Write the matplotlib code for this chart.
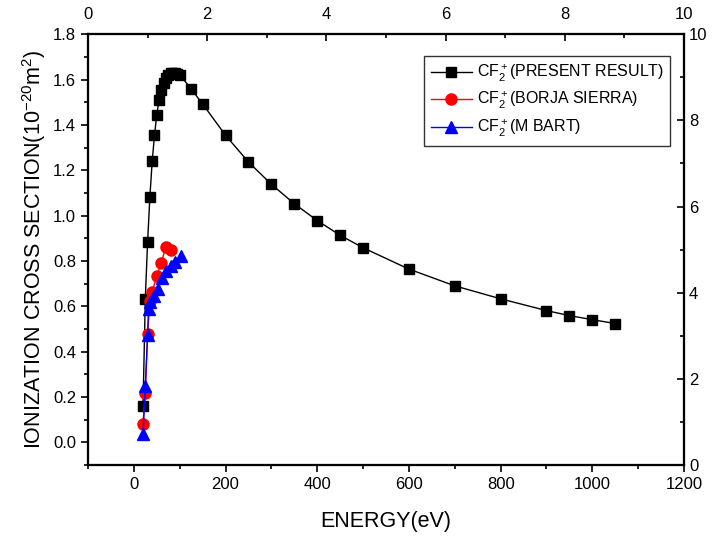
import numpy as np
import matplotlib
matplotlib.use("Agg")
import matplotlib.pyplot as plt
from matplotlib.ticker import MultipleLocator, FormatStrFormatter

plt.rcParams["font.family"] = ["Liberation Sans", "DejaVu Sans"]
plt.rcParams["mathtext.fontset"] = "custom"
plt.rcParams["mathtext.rm"] = "Liberation Sans"
plt.rcParams["mathtext.it"] = "Liberation Sans"

# present result
e_present = [20, 25, 30, 35, 40, 45, 50, 55, 60, 65, 70, 75, 80, 85, 90, 95, 100,
             125, 150, 200, 250, 300, 350, 400, 450, 500, 600, 700, 800, 900, 950, 1000, 1050]
q_present = [0.160, 0.633, 0.884, 1.084, 1.239, 1.354, 1.444, 1.510, 1.553, 1.585, 1.607,
             1.620, 1.627, 1.628, 1.627, 1.624, 1.622, 1.558, 1.492, 1.354, 1.236, 1.138,
             1.052, 0.978, 0.913, 0.858, 0.764, 0.690, 0.633, 0.581, 0.559, 0.541, 0.524]
# Borja Sierra
e_borja = [20, 25, 30, 35, 40, 50, 60, 70, 80]
q_borja = [0.083, 0.218, 0.480, 0.624, 0.665, 0.732, 0.793, 0.863, 0.848]
# M Bart
e_bart = [20, 25, 30, 32, 36, 43, 52, 61, 70, 80, 89, 102]
q_bart = [0.036, 0.249, 0.473, 0.590, 0.619, 0.645, 0.677, 0.724, 0.754, 0.779, 0.796, 0.820]

fig = plt.figure(figsize=(7.12, 5.42), dpi=100)
ax = fig.add_axes([0.1236, 0.142, 0.8371, 0.795])

ax.plot(e_present, q_present, "-s", color="black", lw=1, ms=6.5,
        label="CF$_2^+$(PRESENT RESULT)")
ax.plot(e_borja, q_borja, "-o", color="red", lw=1, ms=8,
        label="CF$_2^+$(BORJA SIERRA)")
ax.plot(e_bart, q_bart, "-^", color="blue", lw=1, ms=9,
        label="CF$_2^+$(M BART)")

ax.set_xlim(-100, 1200)
ax.set_ylim(-0.1, 1.8)
ax.xaxis.set_major_locator(MultipleLocator(200))
ax.xaxis.set_minor_locator(MultipleLocator(100))
ax.yaxis.set_major_locator(MultipleLocator(0.2))
ax.yaxis.set_minor_locator(MultipleLocator(0.1))
ax.yaxis.set_major_formatter(FormatStrFormatter("%.1f"))
ax.tick_params(which="both", direction="out", labelsize=12, width=1.2)
ax.tick_params(which="major", length=5)
ax.tick_params(which="minor", length=3)
for s in ax.spines.values():
    s.set_linewidth(1.5)

ax.set_xlabel("ENERGY(eV)", fontsize=15.5, labelpad=14)
ax.set_ylabel("IONIZATION CROSS SECTION(10$^{-20}$m$^2$)", fontsize=15.5, labelpad=4)

# top and right axes
axt = ax.twiny()
axt.set_xlim(0, 10)
axt.xaxis.set_major_locator(MultipleLocator(2))
axt.xaxis.set_minor_locator(MultipleLocator(1))
axr = ax.twinx()
axr.set_ylim(0, 10)
axr.yaxis.set_major_locator(MultipleLocator(2))
axr.yaxis.set_minor_locator(MultipleLocator(1))
for a in (axt, axr):
    a.tick_params(which="both", direction="in", labelsize=12, width=1.2)
    a.tick_params(which="major", length=5)
    a.tick_params(which="minor", length=3)
    for s in a.spines.values():
        s.set_linewidth(1.5)
axt.tick_params(axis="x", pad=9)

leg = ax.legend(loc="upper right", bbox_to_anchor=(0.985, 0.96), fontsize=11.5,
                frameon=True, fancybox=False, edgecolor="black", handlelength=2.6,
                handletextpad=0.3, labelspacing=0.42, borderaxespad=0.3)
leg.get_frame().set_linewidth(1.0)

fig.savefig("out.png", dpi=100)
